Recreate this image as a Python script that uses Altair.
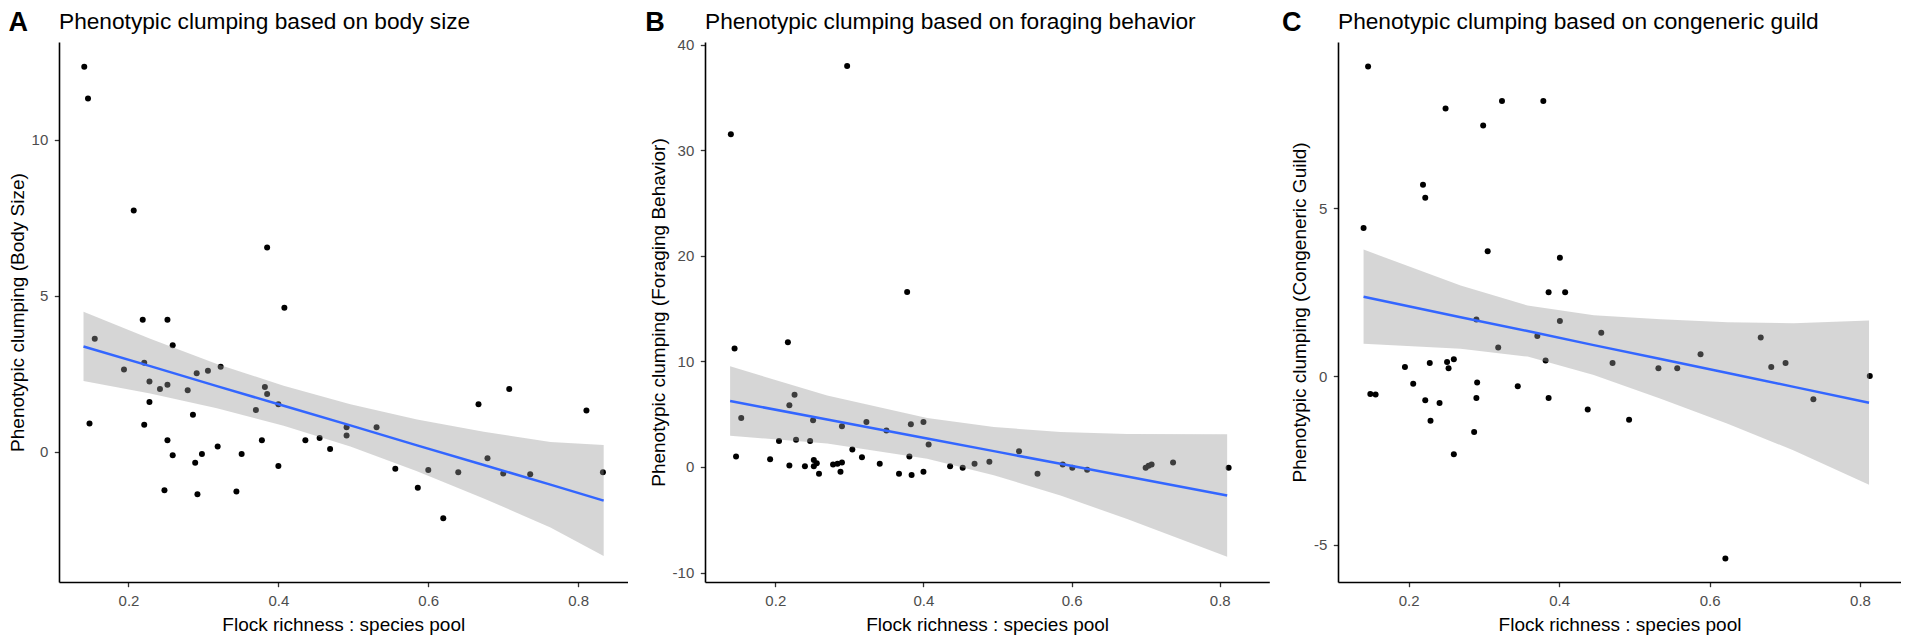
import altair as alt
import pandas as pd

FONT = "Liberation Sans"

# ---------------- data ----------------
letters = ["A", "B", "C"]
titles = [
    "Phenotypic clumping based on body size",
    "Phenotypic clumping based on foraging behavior",
    "Phenotypic clumping based on congeneric guild",
]
ytitles = [
    "Phenotypic clumping (Body Size)",
    "Phenotypic clumping (Foraging Behavior)",
    "Phenotypic clumping (Congeneric Guild)",
]
xtitle = "Flock richness : species pool"
xticks = [0.2, 0.4, 0.6, 0.8]
yticks_a = [0, 5, 10]
yticks_b = [-10, 0, 10, 20, 30, 40]
yticks_c = [-5, 0, 5]

# Panel A: body size
xa = [0.141, 0.146, 0.148, 0.155, 0.194, 0.207, 0.219, 0.221, 0.221, 0.228, 0.228,
      0.242, 0.252, 0.252, 0.252, 0.248, 0.259, 0.259, 0.279, 0.286, 0.289, 0.291,
      0.292, 0.298, 0.306, 0.319, 0.323, 0.344, 0.351, 0.370, 0.378, 0.382, 0.385,
      0.385, 0.400, 0.400, 0.408, 0.436, 0.455, 0.469, 0.491, 0.491, 0.531, 0.556,
      0.586, 0.600, 0.620, 0.640, 0.667, 0.679, 0.700, 0.708, 0.736, 0.811, 0.833]
ya = [12.34, 11.32, 0.90, 3.62, 2.63, 7.73, 4.23, 0.86, 2.85, 2.25, 1.59,
      2.01, 4.23, 2.14, 0.36, -1.24, 3.41, -0.12, 1.97, 1.18, -0.36, 2.51,
      -1.37, -0.08, 2.59, 0.16, 2.72, -1.28, -0.08, 1.33, 0.36, 2.07, 6.54,
      1.85, 1.52, -0.46, 4.61, 0.36, 0.44, 0.08, 0.78, 0.52, 0.78, -0.55,
      -1.16, -0.59, -2.14, -0.66, 1.52, -0.21, -0.70, 2.01, -0.73, 1.32, -0.66]
fxa = [0.140, 0.229, 0.318, 0.407, 0.496, 0.585, 0.674, 0.763, 0.834]
fita = [3.37, 2.74, 2.10, 1.47, 0.84, 0.20, -0.43, -1.06, -1.57]
loa = [2.26, 1.86, 1.39, 0.83, 0.16, -0.63, -1.50, -2.43, -3.35]
hia = [4.48, 3.62, 2.81, 2.11, 1.52, 1.03, 0.64, 0.31, 0.21]

# Panel B: foraging behavior
xb = [0.140, 0.145, 0.147, 0.154, 0.193, 0.205, 0.217, 0.219, 0.219, 0.226, 0.228,
      0.240, 0.247, 0.251, 0.252, 0.252, 0.256, 0.259, 0.278, 0.284, 0.288, 0.290,
      0.290, 0.297, 0.304, 0.317, 0.323, 0.341, 0.350, 0.367, 0.378, 0.381, 0.383,
      0.384, 0.400, 0.400, 0.407, 0.436, 0.453, 0.469, 0.489, 0.529, 0.554, 0.588,
      0.601, 0.621, 0.700, 0.704, 0.708, 0.737, 0.812]
yb = [31.5, 11.23, 1.0, 4.65, 0.73, 2.46, 11.81, 5.85, 0.15, 6.85, 2.58,
      0.08, 2.46, 4.42, 0.65, 0.08, 0.35, -0.65, 0.23, 0.31, -0.46, 3.85,
      0.42, 37.96, 1.65, 0.92, 4.27, 0.31, 3.46, -0.65, 16.58, 1.0, 4.04,
      -0.77, 4.27, -0.46, 2.12, 0.08, -0.08, 0.31, 0.5, 1.5, -0.65, 0.23,
      -0.08, -0.27, -0.08, 0.12, 0.23, 0.42, -0.08]
fxb = [0.139, 0.270, 0.405, 0.495, 0.585, 0.675, 0.810]
fitb = [6.24, 4.50, 2.70, 1.50, 0.30, -0.90, -2.70]
lob = [2.95, 2.22, 0.77, -0.78, -2.71, -4.92, -8.49]
hib = [9.53, 6.78, 4.63, 3.78, 3.31, 3.12, 3.09]

# Panel C: congeneric guild
xc = [0.140, 0.146, 0.149, 0.156, 0.195, 0.206, 0.219, 0.222, 0.222, 0.228, 0.229,
      0.241, 0.249, 0.251, 0.253, 0.260, 0.260, 0.287, 0.290, 0.291, 0.290, 0.299,
      0.305, 0.319, 0.324, 0.345, 0.371, 0.379, 0.382, 0.386, 0.386, 0.401, 0.401,
      0.408, 0.438, 0.456, 0.471, 0.493, 0.532, 0.557, 0.588, 0.621, 0.668, 0.682,
      0.701, 0.738, 0.813]
yc = [4.41, 9.21, -0.52, -0.54, 0.28, -0.22, 5.70, 5.31, -0.71, 0.40, -1.32,
      -0.79, 7.96, 0.43, 0.24, 0.51, -2.31, -1.65, 1.69, -0.18, -0.64, 7.46,
      3.72, 0.86, 8.19, -0.29, 1.20, 8.19, 0.47, 2.50, -0.64, 3.53, 1.65,
      2.50, -0.98, 1.30, 0.40, -1.29, 0.24, 0.24, 0.66, -5.41, 1.16, 0.28,
      0.40, -0.68, 0.01]
fxc = [0.140, 0.269, 0.358, 0.446, 0.535, 0.624, 0.712, 0.812]
fitc = [2.37, 1.76, 1.35, 0.93, 0.52, 0.10, -0.31, -0.78]
loc = [0.97, 0.82, 0.59, 0.04, -0.66, -1.41, -2.20, -3.22]
hic = [3.77, 2.70, 2.11, 1.82, 1.70, 1.61, 1.58, 1.66]


def panel(xs, ys, fx, fit, lo, hi, xdom, ydom, yvals, ytitle, letter, title,
          width, letter_dx):
    pts = pd.DataFrame({"x": xs, "y": ys})
    fdf = pd.DataFrame({"x": fx, "fit": fit, "lo": lo, "hi": hi})
    lab = pd.DataFrame({"letter": [letter], "title": [title]})
    xscale = alt.Scale(domain=xdom, nice=False, zero=False)
    yscale = alt.Scale(domain=ydom, nice=False, zero=False)
    common = dict(domainColor="black", domainWidth=1.6, tickColor="#333333",
                  tickWidth=1.3, tickSize=4.7, labelPadding=6.5,
                  labelColor="#4D4D4D", labelFontSize=15, labelFont=FONT,
                  titleFont=FONT, titleFontSize=19, titleFontWeight="normal",
                  titleColor="black", grid=False)
    xaxis = alt.Axis(values=xticks, format=".1f", title=xtitle,
                     titlePadding=7, labelFlush=False, **common)
    yaxis = alt.Axis(values=yvals, title=ytitle, titlePadding=3.8,
                     labelExpr="'' + datum.value", **common)
    points = alt.Chart(pts).mark_circle(size=36, color="black", opacity=1).encode(
        x=alt.X("x:Q", scale=xscale, axis=xaxis),
        y=alt.Y("y:Q", scale=yscale, axis=yaxis),
    )
    band = alt.Chart(fdf).mark_area(color="#999999", opacity=0.4).encode(
        x=alt.X("x:Q", scale=xscale, axis=xaxis),
        y=alt.Y("lo:Q", scale=yscale, axis=yaxis),
        y2="hi:Q",
    )
    line = alt.Chart(fdf).mark_line(color="#3366FF", strokeWidth=2.5).encode(
        x=alt.X("x:Q", scale=xscale, axis=xaxis),
        y=alt.Y("fit:Q", scale=yscale, axis=yaxis),
    )
    letter_mark = alt.Chart(lab).mark_text(
        align="left", baseline="alphabetic", font=FONT, fontSize=27,
        fontWeight="bold", color="black",
    ).encode(x=alt.value(letter_dx), y=alt.value(-10.9), text="letter:N")
    title_mark = alt.Chart(lab).mark_text(
        align="left", baseline="alphabetic", font=FONT, fontSize=22.7,
        color="black",
    ).encode(x=alt.value(0), y=alt.value(-13), text="title:N")
    return alt.layer(points, band, line, letter_mark, title_mark).properties(
        width=width, height=540)


pa = panel(xa, ya, fxa, fita, loa, hia, [0.1073, 0.8658], [-4.18, 13.13],
           yticks_a, ytitles[0], letters[0], titles[0], 568.5, -50.6)
pb = panel(xb, yb, fxb, fitb, lob, hib, [0.1051, 0.8669], [-10.89, 40.24],
           yticks_b, ytitles[1], letters[1], titles[1], 564.3, -59.7)
pc = panel(xc, yc, fxc, fitc, loc, hic, [0.106, 0.8545], [-6.11, 9.94],
           yticks_c, ytitles[2], letters[2], titles[2], 563, -56)

inner = alt.hconcat(pb, pc, spacing=68, bounds="flush")
chart = alt.hconcat(pa, inner, spacing=77, bounds="flush").properties(
    padding={"left": 0, "top": 1, "right": 0, "bottom": 0}
).configure_view(strokeWidth=0)

chart.save("out.html", embed_options={"renderer": "svg", "actions": False})
